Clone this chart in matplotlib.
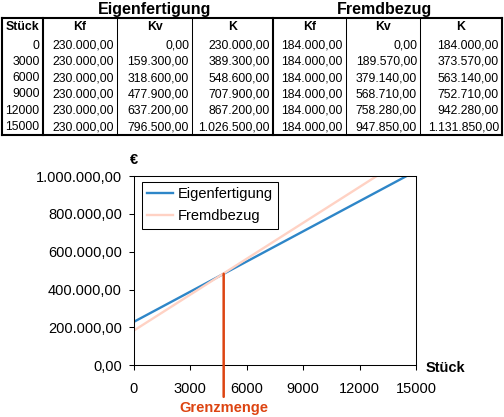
import matplotlib
matplotlib.use("Agg")
import matplotlib.pyplot as plt
from matplotlib.ticker import FuncFormatter, FixedLocator

plt.rcParams['font.family'] = ['Liberation Sans', 'DejaVu Sans']

# ---- data ----
stueck = [0, 3000, 6000, 9000, 12000, 15000]
kf_eigen = [230000.00] * 6
kv_eigen = [0.00, 159300.00, 318600.00, 477900.00, 637200.00, 796500.00]
k_eigen = [230000.00, 389300.00, 548600.00, 707900.00, 867200.00, 1026500.00]
kf_fremd = [184000.00] * 6
kv_fremd = [0.00, 189570.00, 379140.00, 568710.00, 758280.00, 947850.00]
k_fremd = [184000.00, 373570.00, 563140.00, 752710.00, 942280.00, 1131850.00]
col_headers = ["Stück", "Kf", "Kv", "K", "Kf", "Kv", "K"]
group_titles = ["Eigenfertigung", "Fremdbezug"]
series_names = ["Eigenfertigung", "Fremdbezug"]
x_ticks = [0, 3000, 6000, 9000, 12000, 15000]
y_ticks = [0, 200000, 400000, 600000, 800000, 1000000]
grenzmenge = 4770  # position of the marked break-even quantity


def de(v):
    s = f"{v:,.2f}"
    return s.replace(",", "X").replace(".", ",").replace("X", ".")


W, H = 504, 417
fig = plt.figure(figsize=(W / 100, H / 100), dpi=100)

# ---- table (overlay in pixel coordinates) ----
tab = fig.add_axes([0, 0, 1, 1])
tab.set_xlim(0, W)
tab.set_ylim(H, 0)
tab.axis("off")

edges = [2, 42.7, 117, 192, 273, 346, 420, 502]
top, bottom = 18, 135
thick, thin = 1.5, 0.75
tab.plot([edges[0], edges[-1]], [top, top], color="black", lw=thick, solid_capstyle="projecting")
tab.plot([edges[0], edges[-1]], [bottom, bottom], color="black", lw=thick, solid_capstyle="projecting")
for i, e in enumerate(edges):
    lw = thick if i in (0, 1, 4, 7) else thin
    tab.plot([e, e], [top, bottom], color="black", lw=lw)

fs_tab = 8.8
header_y = 27
for i, h in enumerate(col_headers):
    tab.text((edges[i] + edges[i + 1]) / 2, header_y, h, ha="center", va="center",
             fontsize=fs_tab, fontweight="bold")

tab.text(155, 9, group_titles[0], ha="center", va="center",
         fontsize=11.5, fontweight="bold")
tab.text(384, 9, group_titles[1], ha="center", va="center",
         fontsize=11.5, fontweight="bold")

cols = [stueck, kf_eigen, kv_eigen, k_eigen, kf_fremd, kv_fremd, k_fremd]
for r in range(len(stueck)):
    y = 45.5 + 16.3 * r
    for c, col in enumerate(cols):
        txt = str(col[r]) if c == 0 else de(col[r])
        tab.text(edges[c + 1] - 3, y, txt, ha="right", va="center", fontsize=fs_tab)

# ---- chart ----
left, right, ax_top, ax_bot = 134, 416, 176, 365.3
ax = fig.add_axes([left / W, 1 - ax_bot / H, (right - left) / W, (ax_bot - ax_top) / H])
blue = "#2E86C8"
pink = "#FFD2C4"
red = "#DD4411"
ax.plot(stueck, k_eigen, color=blue, lw=1.7, label=series_names[0])
ax.plot(stueck, k_fremd, color=pink, lw=1.7, label=series_names[1])
ax.set_xlim(0, 15000)
ax.set_ylim(0, 1000000)
ax.xaxis.set_major_locator(FixedLocator(x_ticks))
ax.yaxis.set_major_locator(FixedLocator(y_ticks))
ax.yaxis.set_major_formatter(FuncFormatter(lambda v, p: de(v)))
ax.xaxis.set_major_formatter(FuncFormatter(lambda v, p: f"{int(v)}"))
for s in ax.spines.values():
    s.set_linewidth(0.75)
    s.set_color("black")
ax.tick_params(axis="x", direction="out", length=3.6, width=0.75, pad=8.2, labelsize=10.5)
ax.tick_params(axis="y", direction="out", length=3.6, width=0.75, pad=5.2, labelsize=10.5)

leg = ax.legend(loc="upper left", bbox_to_anchor=(142.3 / W, 1 - 182.3 / H),
                bbox_transform=fig.transFigure, borderaxespad=0, fontsize=10.5,
                frameon=True, fancybox=False, framealpha=1, edgecolor="black",
                handlelength=1.75, handletextpad=0.3, borderpad=0.35, labelspacing=0.55)
leg.get_frame().set_linewidth(0.75)

# Grenzmenge marker
k_at_g = k_eigen[0] + (k_eigen[1] - k_eigen[0]) / (stueck[1] - stueck[0]) * grenzmenge
ax.annotate("Grenzmenge", xy=(grenzmenge, k_at_g), xycoords="data",
            xytext=(grenzmenge, -(408 - ax_bot) / (ax_bot - ax_top)),
            textcoords=ax.get_xaxis_transform(), ha="center", va="center",
            fontsize=10.5, fontweight="bold", color=red,
            arrowprops=dict(arrowstyle="-", color=red, lw=1.8, shrinkA=1, shrinkB=0),
            annotation_clip=False)

fig.text(134 / W, 1 - 160 / H, "€", ha="center", va="center", fontsize=10.5, fontweight="bold")
fig.text(445 / W, 1 - 368 / H, "Stück", ha="center", va="center", fontsize=10.5, fontweight="bold")

fig.savefig("out.png", dpi=100)
